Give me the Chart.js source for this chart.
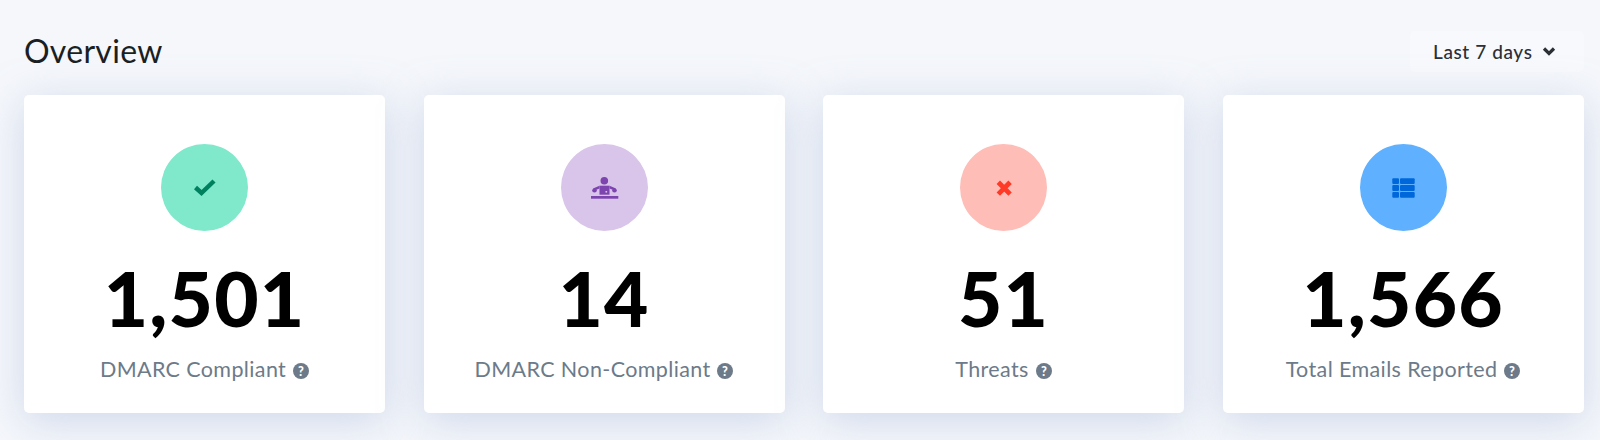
<!DOCTYPE html>
<html>
<head>
<meta charset="utf-8">
<script src="https://cdn.jsdelivr.net/npm/chart.js@4"></script>
<style>
html, body { margin: 0; width: 1600px; height: 440px; overflow: hidden; background: #f5f7fb; font-family: Lato, "Open Sans", sans-serif; }
#title { position: absolute; left: 24px; top: 29.6px; font-size: 32px; line-height: 42px; font-weight: 400; color: #1b1f23; letter-spacing: 0.3px; }
#range { position: absolute; left: 1410px; top: 31px; width: 174px; height: 41px; background: #f8f9fc; border-radius: 5px; color: #2b3036; font-size: 19px; line-height: 41px; font-weight: 500; }
#range span { position: absolute; left: 23px; letter-spacing: 0.6px; }
#range svg { position: absolute; left: 132px; top: 16px; }
.card { position: absolute; top: 95px; width: 361px; height: 318px; background: #fff; border-radius: 5px; box-shadow: 0 8px 40px rgba(170,185,220,.5); text-align: center; }
.card canvas { position: absolute; left: 137px; top: 49px; }
.card .icon { position: absolute; left: 137px; top: 49px; width: 87px; height: 87px; }
.card .num { position: absolute; left: 0; right: 0; top: 156.400px; font-size: 76.500px; line-height: 92px; font-weight: 900; color: #000; letter-spacing: 1.200px; }
.card .label { position: absolute; left: 0; right: 0; top: 260.700px; font-size: 21.500px; line-height: 26px; color: #6c7a89; white-space: nowrap; letter-spacing: 0.38px; }
.card .label svg { vertical-align: -2px; margin-left: 1px; }
</style>
</head>
<body>
<div id="title">Overview</div>
<div id="range"><span>Last 7 days</span><svg width="14" height="10" viewBox="0 0 14 10"><polyline points="2,1.500 7,6.500 12,1.500" fill="none" stroke="#2b3036" stroke-width="3.200"/></svg></div>
<div id="cards"></div>
<script>
const labels = ['DMARC Compliant', 'DMARC Non-Compliant', 'Threats', 'Total Emails Reported'];
const values = [1501, 14, 51, 1566];
const circleColors = ['#80e8cb', '#d9c5e9', '#ffbdb7', '#5fb0ff'];
const iconColors = ['#00805f', '#7c44ae', '#ff3a26', '#0067db'];
const cardLefts = [24, 423.500, 823, 1222.500];

// icon glyphs, 87px box over the circle
const icons = [
    c => `<path d="M34.500 43.500l6 5.500 12.500-12" fill="none" stroke="${c}" stroke-width="4.500"/>`,
    c => `<g fill="${c}"><circle cx="43.300" cy="36.700" r="3.800"/>
          <rect x="38.500" y="41.700" width="10" height="9"/>
          <path d="M38.500 41.700L32 44.500l1.500 2 5-2zM48.500 41.700l6.500 2.800-1.500 2-5-2z"/>
          <ellipse cx="33.500" cy="46.500" rx="2.300" ry="1.900"/><ellipse cx="53.500" cy="46.500" rx="2.300" ry="1.900"/>
          <rect x="30" y="52" width="27.300" height="2.700"/></g>
          <rect x="44.500" y="47" width="1.600" height="1.600" fill="#d9c5e9"/>`,
    c => `<path d="M38.300 38.300l11.800 11.800m0-11.800L38.300 50.100" fill="none" stroke="${c}" stroke-width="4.800"/>`,
    c => `<g fill="${c}"><rect x="32.300" y="34.300" width="6.700" height="5.800" rx="1"/><rect x="40" y="34.300" width="14.700" height="5.800" rx="1"/>
          <rect x="32.300" y="41.100" width="6.700" height="5.800" rx="1"/><rect x="40" y="41.100" width="14.700" height="5.800" rx="1"/>
          <rect x="32.300" y="47.900" width="6.700" height="5.800" rx="1"/><rect x="40" y="47.900" width="14.700" height="5.800" rx="1"/></g>`
];
const helpIcon = `<svg width="16" height="16" viewBox="0 0 16 16"><circle cx="8" cy="8" r="8" fill="#6c7a89"/><text x="8" y="12.500" text-anchor="middle" font-size="12.500" font-weight="900" fill="#fff" font-family="Lato">?</text></svg>`;

labels.forEach((label, i) => {
    const card = document.createElement('div');
    card.className = 'card';
    card.style.left = cardLefts[i] + 'px';
    card.innerHTML = `<canvas width="87" height="87"></canvas>
        <svg class="icon" viewBox="0 0 87 87">${icons[i](iconColors[i])}</svg>
        <div class="num">${values[i].toLocaleString('en-US')}</div>
        <div class="label">${label} ${helpIcon}</div>`;
    document.getElementById('cards').appendChild(card);

    new Chart(card.querySelector('canvas'), {
        type: 'doughnut',
        data: {
            labels: [label],
            datasets: [{ data: [values[i]], backgroundColor: circleColors[i], borderWidth: 0 }]
        },
        options: {
            responsive: false,
            animation: false,
            cutout: 0,
            plugins: { legend: { display: false }, tooltip: { enabled: false } }
        }
    });
});
</script>
</body>
</html>
